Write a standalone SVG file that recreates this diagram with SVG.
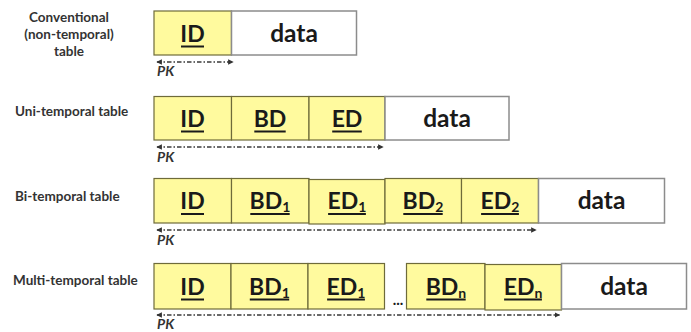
<svg xmlns="http://www.w3.org/2000/svg" width="691" height="332" viewBox="0 0 691 332">
<style>
.k{fill:#FFFA9E;stroke:#6E6B3A;stroke-width:1.2}
.d{fill:#FFFFFF;stroke:#8C8C8C;stroke-width:1.5}
.t{font-family:Lato,"Liberation Sans",sans-serif;font-weight:700;font-size:23px;fill:#1A1A1A;text-anchor:middle}
.dt{font-size:24.5px}
.s{font-size:14px}
.ul{stroke:#1A1A1A;stroke-width:2}
.lab{font-family:Lato,"Liberation Sans",sans-serif;font-weight:700;font-size:13.5px;fill:#333333}
.pk{font-family:Lato,"Liberation Sans",sans-serif;font-weight:700;font-style:italic;font-size:14px;fill:#333333}
.arr{stroke:#3A3A3A;stroke-width:1.4;fill:none;stroke-dasharray:4.5 2 1.5 2;marker-start:url(#ah);marker-end:url(#ah)}
</style>
<defs>
<marker id="ah" viewBox="0 0 8 8" refX="7" refY="4" markerWidth="4" markerHeight="4" orient="auto-start-reverse">
<path d="M0,0 L8,4 L0,8 Z" fill="#333333"/>
</marker>
</defs>
<rect width="691" height="332" fill="#FFFFFF"/>

<g id="labels">
<text class="lab" text-anchor="middle"><tspan x="69" y="22">Conventional</tspan><tspan x="69" y="39">(non-temporal)</tspan><tspan x="69" y="56">table</tspan></text>
<text class="lab" x="15" y="116">Uni-temporal table</text>
<text class="lab" x="15" y="201">Bi-temporal table</text>
<text class="lab" x="13" y="285">Multi-temporal table</text>
</g>

<g id="conventional">
<g id="c-id"><rect class="k" x="154" y="11" width="77.5" height="44"/><text class="t" x="192.5" y="41.5">ID</text><line class="ul" x1="181" y1="46.5" x2="204" y2="46.5"/></g>
<g id="c-data"><rect class="d" x="231.5" y="11" width="125" height="44"/><text class="t dt" x="294" y="41.5">data</text></g>
</g>

<g id="uni">
<g id="u-id"><rect class="k" x="154" y="96.5" width="77.5" height="43.5"/><text class="t" x="192.5" y="126.5">ID</text><line class="ul" x1="181" y1="131.5" x2="204" y2="131.5"/></g>
<g id="u-bd"><rect class="k" x="231.5" y="96.5" width="77.5" height="43.5"/><text class="t" x="270" y="126.5">BD</text><line class="ul" x1="254.3" y1="131.5" x2="285.7" y2="131.5"/></g>
<g id="u-ed"><rect class="k" x="309" y="96.5" width="76" height="43.5"/><text class="t" x="347" y="126.5">ED</text><line class="ul" x1="332.2" y1="131.5" x2="361.8" y2="131.5"/></g>
<g id="u-data"><rect class="d" x="385" y="96.5" width="124" height="43.5"/><text class="t dt" x="447" y="126.5">data</text></g>
</g>

<g id="bi">
<g id="b-id"><rect class="k" x="154" y="178.5" width="77.5" height="44.5"/><text class="t" x="192.5" y="209">ID</text><line class="ul" x1="181" y1="214" x2="204" y2="214"/></g>
<g id="b-bd1"><rect class="k" x="231.5" y="178.5" width="77.5" height="44.5"/><text class="t" x="270" y="209">BD<tspan class="s" dy="3">1</tspan></text><line class="ul" x1="250.3" y1="214" x2="289.7" y2="214"/></g>
<g id="b-ed1"><rect class="k" x="309" y="179.5" width="76" height="44.5"/><text class="t" x="347" y="209">ED<tspan class="s" dy="3">1</tspan></text><line class="ul" x1="328.1" y1="214" x2="365.9" y2="214"/></g>
<g id="b-bd2"><rect class="k" x="385" y="178.5" width="76.5" height="44.5"/><text class="t" x="423" y="209">BD<tspan class="s" dy="3">2</tspan></text><line class="ul" x1="403.3" y1="214" x2="442.7" y2="214"/></g>
<g id="b-ed2"><rect class="k" x="461.5" y="178.5" width="77" height="44.5"/><text class="t" x="500" y="209">ED<tspan class="s" dy="3">2</tspan></text><line class="ul" x1="481.1" y1="214" x2="518.9" y2="214"/></g>
<g id="b-data"><rect class="d" x="538.5" y="178.5" width="126" height="44.5"/><text class="t dt" x="601.5" y="209">data</text></g>
</g>

<g id="multi">
<g id="m-id"><rect class="k" x="154" y="263.5" width="77" height="45.5"/><text class="t" x="192.5" y="294.5">ID</text><line class="ul" x1="181" y1="299.5" x2="204" y2="299.5"/></g>
<g id="m-bd1"><rect class="k" x="231" y="263.5" width="77" height="45.5"/><text class="t" x="269.5" y="294.5">BD<tspan class="s" dy="3">1</tspan></text><line class="ul" x1="249.8" y1="299.5" x2="289.2" y2="299.5"/></g>
<g id="m-ed1"><rect class="k" x="308" y="263.5" width="76.5" height="45.5"/><text class="t" x="346" y="294.5">ED<tspan class="s" dy="3">1</tspan></text><line class="ul" x1="327.1" y1="299.5" x2="364.9" y2="299.5"/></g>
<text id="m-dots" class="t" style="font-size:15px" x="398" y="305">...</text>
<g id="m-bdn"><rect class="k" x="406.5" y="263.5" width="78.5" height="45.5"/><text class="t" x="446" y="294.5">BD<tspan class="s" dy="3">n</tspan></text><line class="ul" x1="426.3" y1="299.5" x2="465.7" y2="299.5"/></g>
<g id="m-edn"><rect class="k" x="485" y="264.5" width="76.5" height="45.5"/><text class="t" x="523" y="294.5">ED<tspan class="s" dy="3">n</tspan></text><line class="ul" x1="504.1" y1="299.5" x2="541.9" y2="299.5"/></g>
<g id="m-data"><rect class="d" x="561.5" y="263.5" width="125" height="45.5"/><text class="t dt" x="624" y="294.5">data</text></g>
</g>

<g id="connectors">
<line class="arr" x1="157" y1="62" x2="233" y2="62"/>
<line class="arr" x1="157" y1="147" x2="383" y2="147"/>
<line class="arr" x1="157" y1="230" x2="536" y2="230"/>
<line class="arr" x1="157" y1="315" x2="559.5" y2="315"/>
</g>

<g id="pk-labels">
<text class="pk" x="157" y="76">PK</text>
<text class="pk" x="157" y="162">PK</text>
<text class="pk" x="157" y="245">PK</text>
<text class="pk" x="157" y="329">PK</text>
</g>
</svg>
